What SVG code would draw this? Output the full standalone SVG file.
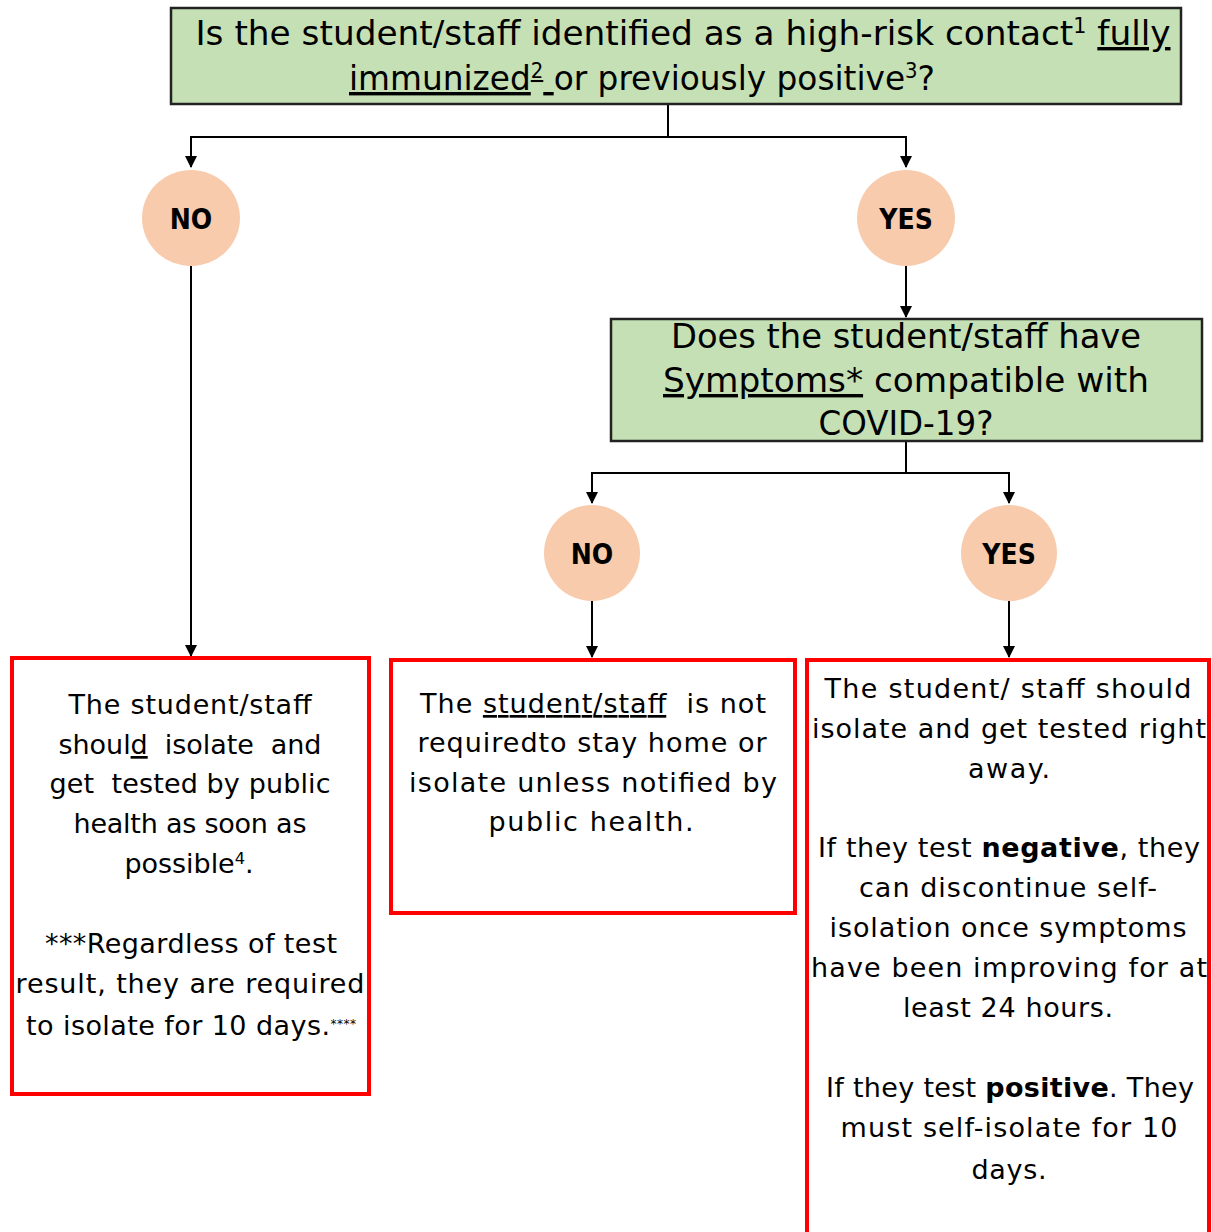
<svg xmlns="http://www.w3.org/2000/svg" width="1212" height="1232" viewBox="0 0 1212 1232">
<defs>
<marker id="arr" markerWidth="12" markerHeight="12" refX="11" refY="6" orient="auto" markerUnits="userSpaceOnUse">
<path d="M0,0 L12,6 L0,12 Z" fill="#000"/>
</marker>
<style>
.q{fill:#c5e0b4;stroke:#222;stroke-width:2.5}
.c{fill:#f8cbad}
.r{fill:#fff;stroke:#ff0000;stroke-width:4}
.ct{font-family:"DejaVu Sans Condensed","DejaVu Sans",sans-serif;font-weight:bold;font-size:28px;fill:#000;text-anchor:middle}
.qt{font-family:"DejaVu Sans Condensed","DejaVu Sans",sans-serif;font-size:34px;fill:#000;text-anchor:middle}
.bt{font-family:"DejaVu Sans",Verdana,sans-serif;font-size:27px;fill:#000;text-anchor:middle}
.ln{fill:none;stroke:#000;stroke-width:2}
.u{text-decoration:underline}
.sup{font-size:60%;baseline-shift:super}
</style>
</defs>
<rect width="1212" height="1232" fill="#fff"/>

<g id="connectors">
<path class="ln" d="M668,104 V137 H191 V167" marker-end="url(#arr)"/>
<path class="ln" d="M668,137 H906 V167" marker-end="url(#arr)"/>
<path class="ln" d="M906,266 V317" marker-end="url(#arr)"/>
<path class="ln" d="M191,266 V656" marker-end="url(#arr)"/>
<path class="ln" d="M906,441 V473 H592 V503" marker-end="url(#arr)"/>
<path class="ln" d="M906,473 H1009 V503" marker-end="url(#arr)"/>
<path class="ln" d="M592,601 V657" marker-end="url(#arr)"/>
<path class="ln" d="M1009,601 V657" marker-end="url(#arr)"/>
</g>

<g id="q1">
<rect class="q" x="171" y="8" width="1010" height="96"/>
<text class="qt" x="683" y="45" textLength="975" lengthAdjust="spacingAndGlyphs">Is the student/staff identified as a high-risk contact<tspan class="sup">1</tspan> <tspan class="u">fully</tspan></text>
<text class="qt" x="642" y="90" textLength="586" lengthAdjust="spacingAndGlyphs"><tspan class="u">immunized<tspan class="sup">2</tspan> </tspan>or previously positive<tspan class="sup">3</tspan>?</text>
</g>

<g id="no1">
<ellipse class="c" cx="191" cy="218" rx="49" ry="48"/>
<text class="ct" x="191" y="229">NO</text>
</g>

<g id="yes1">
<ellipse class="c" cx="906" cy="218" rx="49" ry="48"/>
<text class="ct" x="906" y="229">YES</text>
</g>

<g id="q2">
<rect class="q" x="611" y="319" width="591" height="122"/>
<text class="qt" x="906" y="348" textLength="470" lengthAdjust="spacingAndGlyphs">Does the student/staff have</text>
<text class="qt" x="906" y="392" textLength="486" lengthAdjust="spacingAndGlyphs"><tspan class="u">Symptoms*</tspan> compatible with</text>
<text class="qt" x="906" y="435" textLength="175" lengthAdjust="spacingAndGlyphs">COVID-19?</text>
</g>

<g id="no2">
<ellipse class="c" cx="592" cy="553" rx="48" ry="48"/>
<text class="ct" x="592" y="564">NO</text>
</g>

<g id="yes2">
<ellipse class="c" cx="1009" cy="553" rx="48" ry="48"/>
<text class="ct" x="1009" y="564">YES</text>
</g>

<g id="outcome-no">
<rect class="r" x="12" y="658" width="357" height="436"/>
<text class="bt" x="190" y="714" textLength="243">The student/staff</text>
<text class="bt" x="190" y="754" textLength="263" xml:space="preserve">shoul<tspan class="u">d</tspan>  isolate  and</text>
<text class="bt" x="190" y="793" textLength="281" xml:space="preserve">get  tested by public</text>
<text class="bt" x="190" y="833" textLength="233">health as soon as</text>
<text class="bt" x="189" y="873" textLength="129">possible<tspan class="sup">4</tspan>.</text>
<text class="bt" x="191" y="953" textLength="292">***Regardless of test</text>
<text class="bt" x="190" y="993" textLength="349">result, they are required</text>
<text class="bt" x="191" y="1035" textLength="330">to isolate for 10 days.<tspan class="sup" style="font-size:45%">****</tspan></text>
</g>

<g id="outcome-nosymptoms">
<rect class="r" x="391" y="660" width="404" height="253"/>
<text class="bt" x="593" y="713" textLength="346" xml:space="preserve">The <tspan class="u">student/staff</tspan>  is not</text>
<text class="bt" x="592" y="752" textLength="349">requiredto stay home or</text>
<text class="bt" x="593" y="792" textLength="368">isolate unless notified by</text>
<text class="bt" x="591" y="831" textLength="205">public health.</text>
</g>

<g id="outcome-symptoms">
<rect class="r" x="807" y="660" width="402" height="580"/>
<text class="bt" x="1008" y="698" textLength="367">The student/ staff should</text>
<text class="bt" x="1009" y="738" textLength="394">isolate and get tested right</text>
<text class="bt" x="1009" y="778" textLength="82">away.</text>
<text class="bt" x="1009" y="857" textLength="382">If they test <tspan font-weight="bold">negative</tspan>, they</text>
<text class="bt" x="1008" y="897" textLength="298">can discontinue self-</text>
<text class="bt" x="1008" y="937" textLength="357">isolation once symptoms</text>
<text class="bt" x="1009" y="977" textLength="396">have been improving for at</text>
<text class="bt" x="1008" y="1017" textLength="210">least 24 hours.</text>
<text class="bt" x="1010" y="1097" textLength="368">If they test <tspan font-weight="bold">positive</tspan>. They</text>
<text class="bt" x="1009" y="1137" textLength="337">must self-isolate for 10</text>
<text class="bt" x="1009" y="1179" textLength="75">days.</text>
</g>
</svg>
